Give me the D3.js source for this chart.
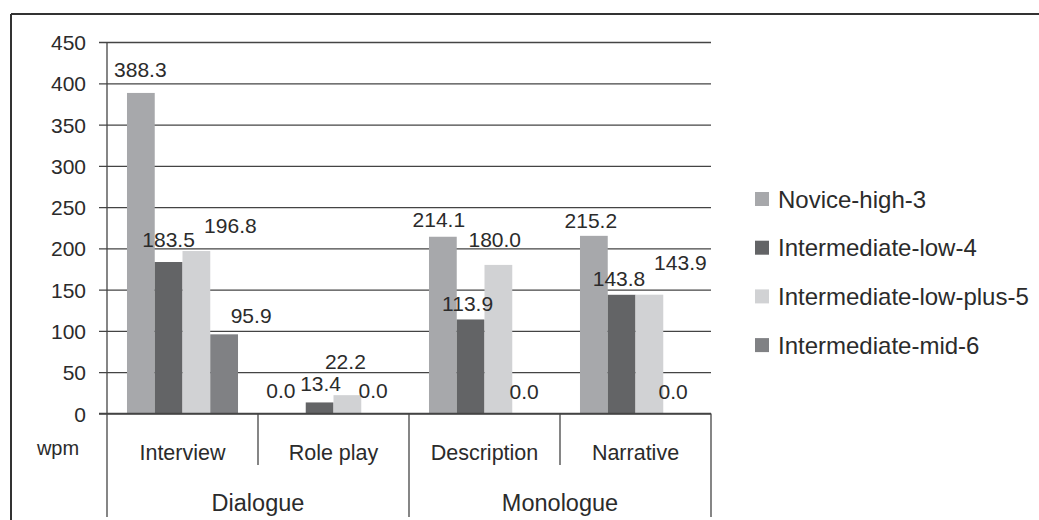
<!DOCTYPE html>
<html>
<head>
<meta charset="utf-8">
<script src="https://cdn.jsdelivr.net/npm/d3@7"></script>
<style>
  html, body { margin: 0; padding: 0; background: #fff; }
  svg { display: block; font-family: "Liberation Sans", Arial, sans-serif; }
</style>
</head>
<body>
<svg id="chart" width="1039" height="520"></svg>
<script>
// Speech rate (words per minute) by task and proficiency level
const groups = ["Dialogue", "Monologue"];
const tasks = ["Interview", "Role play", "Description", "Narrative"];
const taskGroup = ["Dialogue", "Dialogue", "Monologue", "Monologue"];
const seriesNames = ["Novice-high-3", "Intermediate-low-4", "Intermediate-low-plus-5", "Intermediate-mid-6"];
const noviceHigh3 = [388.3, 0.0, 214.1, 215.2];
const intermediateLow4 = [183.5, 13.4, 113.9, 143.8];
const intermediateLowPlus5 = [196.8, 22.2, 180.0, 143.9];
const intermediateMid6 = [95.9, 0.0, 0.0, 0.0];
const yTicks = [0, 50, 100, 150, 200, 250, 300, 350, 400, 450];
const unitLabel = "wpm";

const seriesValues = [noviceHigh3, intermediateLow4, intermediateLowPlus5, intermediateMid6];
const colors = ["#a7a8ab", "#636466", "#d1d2d4", "#808184"];

// hand-placed value labels: [dx from bar centre, dy from bar top] per task, per series
const labelNudges = [
  [[-0.5, -16], [0, -15], [34, -18], [27, -11]],
  [[-11, -16], [1, -11], [-2, -26], [-2, -16]],
  [[-4, -10], [-3, -8], [-3.6, -18], [-2, -15]],
  [[-3, -8], [-2.6, -9], [31, -25], [-4, -15]]
];

const svg = d3.select("#chart");
const ink = "#2b2b2b";
const rule = "#444";

const left = 107, right = 711;
const x0 = d3.scaleBand().domain(tasks).range([left, right]).paddingInner(0).paddingOuter(0);
const x1 = d3.scaleBand().domain(seriesNames).range([0, x0.bandwidth()]).paddingInner(0).paddingOuter(0.72);
const y = d3.scaleLinear().domain([0, 450]).range([413.5, 42]);

// outer frame (top and left edges)
svg.append("line").attr("x1", 11).attr("x2", 1039).attr("y1", 14).attr("y2", 14)
  .attr("stroke", "#333").attr("stroke-width", 2);
svg.append("line").attr("x1", 11).attr("x2", 11).attr("y1", 14).attr("y2", 520)
  .attr("stroke", "#333").attr("stroke-width", 2);

// gridlines with left ticks
const yAxis = d3.axisLeft(y).tickValues(yTicks).tickSize(right - left + 8).tickFormat(d3.format("d")).tickPadding(13);
const gy = svg.append("g").attr("transform", `translate(${right},0)`).call(yAxis);
gy.select(".domain").remove();
gy.selectAll(".tick line").attr("stroke", rule).attr("stroke-width", 1.3);
gy.selectAll(".tick text").attr("fill", ink).attr("font-size", 21).attr("dy", "0.36em")
  .attr("font-family", "Liberation Sans, Arial, sans-serif");

// bars
const barG = svg.append("g");
tasks.forEach((t, ti) => {
  seriesNames.forEach((s, si) => {
    const v = seriesValues[si][ti];
    barG.append("rect")
      .attr("x", x0(t) + x1(s))
      .attr("y", y(v))
      .attr("width", x1.bandwidth())
      .attr("height", y(0) - y(v))
      .attr("fill", colors[si]);
  });
});

// y axis line, extended down through the category rows
svg.append("line").attr("x1", left).attr("x2", left).attr("y1", y(450)).attr("y2", 517)
  .attr("stroke", rule).attr("stroke-width", 1.3);
// zero line
svg.append("line").attr("x1", left - 8).attr("x2", right).attr("y1", y(0)).attr("y2", y(0))
  .attr("stroke", rule).attr("stroke-width", 1.3);

// value labels
const fmt = d3.format(".1f");
tasks.forEach((t, ti) => {
  seriesNames.forEach((s, si) => {
    const v = seriesValues[si][ti];
    const [dx, dy] = labelNudges[ti][si];
    svg.append("text")
      .attr("x", x0(t) + x1(s) + x1.bandwidth() / 2 + dx)
      .attr("y", y(v) + dy)
      .attr("text-anchor", "middle")
      .attr("font-size", 21)
      .attr("fill", ink)
      .text(fmt(v));
  });
});

// category separators: task boundaries (short) and group boundaries (long)
tasks.forEach((t, ti) => {
  const xs = x0(t) + x0.bandwidth();
  const isGroupEnd = ti === tasks.length - 1 || taskGroup[ti + 1] !== taskGroup[ti];
  svg.append("line").attr("x1", xs).attr("x2", xs).attr("y1", y(0)).attr("y2", isGroupEnd ? 517 : 465)
    .attr("stroke", rule).attr("stroke-width", 1.3);
});

// task labels
tasks.forEach(t => {
  svg.append("text")
    .attr("x", x0(t) + x0.bandwidth() / 2)
    .attr("y", 460)
    .attr("text-anchor", "middle")
    .attr("font-size", 21.5)
    .attr("fill", ink)
    .text(t);
});

// group labels
groups.forEach(g => {
  const members = tasks.filter((t, i) => taskGroup[i] === g);
  const gx0 = x0(members[0]);
  const gx1 = x0(members[members.length - 1]) + x0.bandwidth();
  svg.append("text")
    .attr("x", (gx0 + gx1) / 2)
    .attr("y", 511)
    .attr("text-anchor", "middle")
    .attr("font-size", 23.5)
    .attr("fill", ink)
    .text(g);
});

// unit label
svg.append("text").attr("x", 58).attr("y", 455).attr("text-anchor", "middle")
  .attr("font-size", 20).attr("fill", ink).text(unitLabel);

// legend
const legend = svg.append("g").attr("transform", "translate(755,199)");
seriesNames.forEach((s, i) => {
  const row = legend.append("g").attr("transform", `translate(0,${i * 48.7})`);
  row.append("rect").attr("x", 0).attr("y", -7).attr("width", 14).attr("height", 14).attr("fill", colors[i]);
  row.append("text").attr("x", 23).attr("y", 8.5).attr("font-size", 24).attr("fill", ink).text(s);
});
</script>
</body>
</html>
